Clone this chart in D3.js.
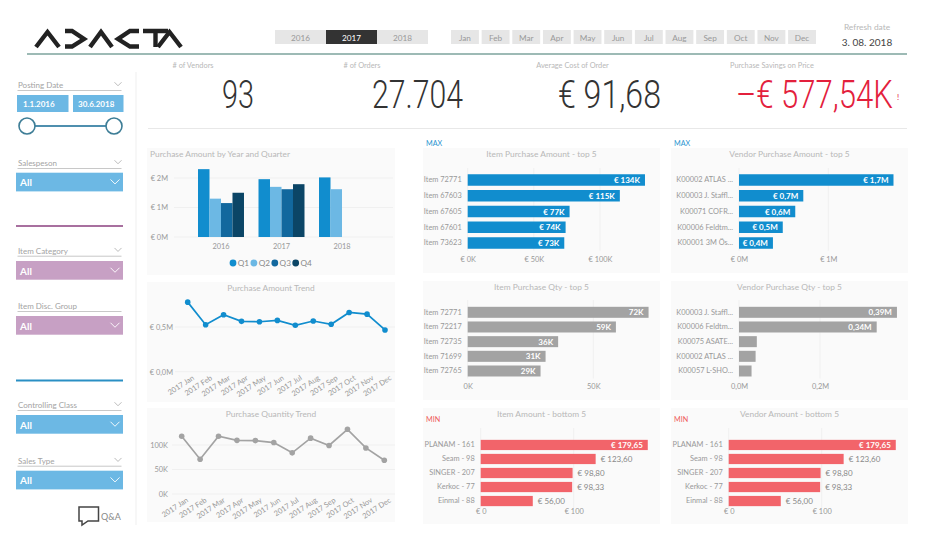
<!DOCTYPE html>
<html>
<head>
<meta charset="utf-8">
<script src="https://cdn.jsdelivr.net/npm/d3@7/dist/d3.min.js"></script>
<style>
  html, body { margin: 0; padding: 0; background: #fff; }
  svg { display: block; font-family: Lato, sans-serif; }
  .axis .domain, .axis .tick line { display: none; }
  .axis text { fill: #999; font-size: 7.4px; font-family: Lato, sans-serif; }
</style>
</head>
<body>
<svg id="root" width="929" height="552"></svg>
<script>
// Values
var years = ['2016', '2017', '2018'];
var selectedYear = '2017';
var months = ['Jan', 'Feb', 'Mar', 'Apr', 'May', 'Jun', 'Jul', 'Aug', 'Sep', 'Oct', 'Nov', 'Dec'];
var quarters = ['Q1', 'Q2', 'Q3', 'Q4'];
var quarterAmount2016 = [2.3, 1.3, 1.15, 1.5];
var quarterAmount2017 = [1.96, 1.7, 1.62, 1.79];
var quarterAmount2018 = [2.02, 1.62];
var yearTicks = [0, 1, 2];

var trendLabels = months.map(function(m) { return '2017 ' + m; });
var amountTrend = [0.778, 0.526, 0.637, 0.563, 0.559, 0.574, 0.519, 0.567, 0.530, 0.663, 0.644, 0.467];
var amountTicks = [0, 0.5];
var quantityTrend = [118, 71, 118, 109.5, 109, 105, 84, 114, 99, 132, 94, 69];
var quantityTicks = [0, 50, 100];

var itemAmountNames = ['Item 72771', 'Item 67603', 'Item 67605', 'Item 67601', 'Item 73623'];
var itemAmountValues = [134, 115, 77, 74, 73];
var vendorAmountNames = ['K00002 ATLAS ...', 'K00003 J. Staffl...', 'K00071 COFR...', 'K00006 Feldtm...', 'K00001 3M Ös...'];
var vendorAmountValues = [1.73, 0.72, 0.63, 0.49, 0.38];
var itemQtyNames = ['Item 72771', 'Item 72217', 'Item 72735', 'Item 71699', 'Item 72765'];
var itemQtyValues = [72, 59, 36, 31, 29];
var vendorQtyNames = ['K00003 J. Staffl...', 'K00006 Feldtm...', 'K00075 ASATE...', 'K00002 ATLAS ...', 'K00057 L-SHO...'];
var vendorQtyValues = [0.39, 0.34, 0.044, 0.041, 0.031];
var bottomNames = ['PLANAM - 161', 'Seam - 98', 'SINGER - 207', 'Kerkoc - 77', 'Einmal - 88'];
var bottomValues = [179.65, 123.60, 98.80, 98.33, 56.00];

var kpiVendors = 93;
var kpiOrders = 27704;
var kpiAvgCost = 91.68;
var kpiSavings = 577.54;

// Colours
var blue = '#118dce', lightBlue = '#6cb8e4', grey = '#a3a3a3', red = '#f2646a';
var quarterColors = [blue, lightBlue, '#12689e', '#0b4566'];
var titleColor = '#b8b8b8', labelColor = '#8e8e8e', gridColor = '#f0f0f0', panelColor = '#fafafa';

// European number style, as on the dashboard
var locale = d3.formatLocale({decimal: ',', thousands: '.', grouping: [3], currency: ['€ ', '']});
var fmt2 = locale.format('.2f');
var fmt1 = locale.format('.1f');
var fmtInt = locale.format(',d');

var svg = d3.select('#root');

function text(parent, x, y, str, size, color, anchor, weight) {
  return parent.append('text').attr('x', x).attr('y', y).text(str)
    .attr('font-size', size).attr('fill', color)
    .attr('text-anchor', anchor || 'start')
    .attr('font-weight', weight || 400);
}

function rect(parent, x, y, w, h, color) {
  return parent.append('rect').attr('x', x).attr('y', y)
    .attr('width', w).attr('height', h).attr('fill', color);
}

function chevron(parent, cx, cy, halfW, color, sw) {
  parent.append('path')
    .attr('d', 'M' + (cx - halfW) + ',' + (cy - halfW / 2) + 'L' + cx + ',' + (cy + halfW / 2) + 'L' + (cx + halfW) + ',' + (cy - halfW / 2))
    .attr('fill', 'none').attr('stroke', color).attr('stroke-width', sw);
}

drawHeader();
drawKpis();
drawSidebar();
drawQuarterBars();
drawTrend({panel: [147, 282, 248, 120], title: 'Purchase Amount Trend', values: amountTrend, ticks: amountTicks,
  color: blue, x: [187.7, 385], y: [371.7, 327], yTop: 0.5, grid: [175, 395], labelX: 173,
  tickFormat: function(d) { return '€ ' + fmt1(d) + 'M'; }});
drawTrend({panel: [147, 408, 248, 114], title: 'Purchase Quantity Trend', values: quantityTrend, ticks: quantityTicks,
  color: grey, x: [181.7, 384.3], y: [494, 445], yTop: 100, grid: [172, 395], labelX: 168,
  tickFormat: function(d) { return d + 'K'; }});

drawBars({panel: [423, 148, 237, 125], title: 'Item Purchase Amount - top 5', names: itemAmountNames, values: itemAmountValues,
  color: blue, xDomain: [0, 100], xRange: [467.7, 600], band: [174.25, 248.75], pad: 0.27, ticks: [0, 50, 100], axisY: 263, gridTop: 168,
  tickFormat: function(d) { return '€ ' + d + 'K'; }, label: function(d) { return '€ ' + d + 'K'; }, insideMin: 0});
drawBars({panel: [671, 148, 237, 125], title: 'Vendor Purchase Amount - top 5', names: vendorAmountNames, values: vendorAmountValues,
  color: blue, xDomain: [0, 1], xRange: [739, 828.3], band: [174.25, 248.75], pad: 0.27, ticks: [0, 1], axisY: 263, gridTop: 168,
  tickFormat: function(d) { return '€ ' + d + 'M'; }, label: function(d) { return '€ ' + fmt1(d) + 'M'; }, insideMin: 0});
drawBars({panel: [423, 281, 237, 119], title: 'Item Purchase Qty - top 5', names: itemQtyNames, values: itemQtyValues,
  color: grey, xDomain: [0, 50], xRange: [467.7, 593.3], band: [306.8, 376.5], pad: 0.25, ticks: [0, 50], axisY: 390, gridTop: 300,
  tickFormat: function(d) { return d + 'K'; }, label: function(d) { return d + 'K'; }, insideMin: 0});
drawBars({panel: [671, 281, 237, 119], title: 'Vendor Purchase Qty - top 5', names: vendorQtyNames, values: vendorQtyValues,
  color: grey, xDomain: [0, 0.2], xRange: [739, 820], band: [306.8, 376.5], pad: 0.25, ticks: [0, 0.2], axisY: 390, gridTop: 300,
  tickFormat: function(d) { return fmt1(d) + 'M'; }, label: function(d) { return fmt2(d) + 'M'; }, insideMin: 0.1, hideSmall: true});
drawBars({panel: [423, 408, 237, 116], title: 'Item Amount - bottom 5', names: bottomNames, values: bottomValues,
  color: red, xDomain: [0, 100], xRange: [480.7, 573.7], band: [439.85, 506.15], pad: 0.27, ticks: [0, 100], axisY: 515, gridTop: 428,
  tickFormat: function(d) { return '€ ' + d; }, label: function(d) { return '€ ' + fmt2(d); }, insideMin: 150});
drawBars({panel: [671, 408, 237, 116], title: 'Vendor Amount - bottom 5', names: bottomNames, values: bottomValues,
  color: red, xDomain: [0, 100], xRange: [728.7, 821.7], band: [439.85, 506.15], pad: 0.27, ticks: [0, 100], axisY: 515, gridTop: 428,
  tickFormat: function(d) { return '€ ' + d; }, label: function(d) { return '€ ' + fmt2(d); }, insideMin: 150});

text(svg, 426, 146, 'MAX', 7.2, '#2a94d0');
text(svg, 674, 146, 'MAX', 7.2, '#2a94d0');
text(svg, 426, 422, 'MIN', 7.2, '#ef5b5b');
text(svg, 674, 422, 'MIN', 7.2, '#ef5b5b');

function drawHeader() {
  // The logo is a drawn wordmark: pointed shapes instead of letters
  var logo = svg.append('g').attr('fill', 'none').attr('stroke', '#222').attr('stroke-width', 4.4);
  logo.append('title').text('ADACTA');
  var glyphs = [
    'M36,47L47.5,32L59,47',
    'M65,31H72L84,39L72,46.5H65',
    'M90,47L101,32L112,47',
    'M139,31H130L118,39L130,46.5H139',
    'M143,31H168M155.5,31V47',
    'M158,47L169.5,32L181,47'
  ];
  logo.selectAll('path').data(glyphs).join('path').attr('d', function(d) { return d; });

  var yearX = d3.scaleBand().domain(years).range([275, 428]);
  var yearG = svg.append('g').selectAll('g').data(years).join('g');
  yearG.append('rect').attr('x', function(d) { return yearX(d); }).attr('y', 30)
    .attr('width', yearX.bandwidth()).attr('height', 14)
    .attr('fill', function(d) { return d === selectedYear ? '#333' : '#e6e6e6'; });
  yearG.append('text').attr('x', function(d) { return yearX(d) + yearX.bandwidth() / 2; }).attr('y', 40.5)
    .attr('text-anchor', 'middle').attr('font-size', 8.2)
    .attr('fill', function(d) { return d === selectedYear ? '#fff' : '#999'; })
    .text(function(d) { return d; });

  var monthX = d3.scaleBand().domain(months).range([451, 816]).paddingInner(0.09);
  var monthG = svg.append('g').selectAll('g').data(months).join('g');
  monthG.append('rect').attr('x', function(d) { return monthX(d); }).attr('y', 30)
    .attr('width', monthX.bandwidth()).attr('height', 14).attr('fill', '#e6e6e6');
  monthG.append('text').attr('x', function(d) { return monthX(d) + monthX.bandwidth() / 2; }).attr('y', 40.5)
    .attr('text-anchor', 'middle').attr('font-size', 8.2).attr('fill', '#999')
    .text(function(d) { return d; });

  text(svg, 867, 30, 'Refresh date', 8.4, titleColor, 'middle');
  text(svg, 867, 46, '3. 08. 2018', 10, '#444', 'middle');
  rect(svg, 27, 53, 880, 2, '#9dbab5');
}

function drawKpis() {
  text(svg, 193, 68, '# of Vendors', 7.4, titleColor, 'middle');
  text(svg, 362, 68, '# of Orders', 7.4, titleColor, 'middle');
  text(svg, 572.5, 68, 'Average Cost of Order', 7.4, titleColor, 'middle');
  text(svg, 772, 68, 'Purchase Savings on Price', 7.4, titleColor, 'middle');

  // The original number font is narrower, so squeeze each value to its measured width
  function big(x, width, str, color) {
    var t = text(svg, 0, 0, str, 38, color, 'start', 300)
      .attr('font-family', 'Roboto, sans-serif');
    var natural = t.node().getComputedTextLength();
    t.attr('transform', 'translate(' + x + ',108) scale(' + (width / natural) + ',1)');
  }
  big(222, 32, fmtInt(kpiVendors), '#333');
  big(372, 91, fmtInt(kpiOrders), '#333');
  big(558, 103, '€ ' + fmt2(kpiAvgCost), '#333');
  big(736, 157, '–€ ' + fmt2(kpiSavings) + 'K', '#e3203c');
  text(svg, 897, 100, '!', 8, '#e3203c');

  rect(svg, 148, 128, 759, 1, '#e8e8e8');
  rect(svg, 135.5, 72, 1, 453, '#f0f0f0');
}

function drawSidebar() {
  function header(label, yc, hasChevron) {
    text(svg, 18, yc + 3, label, 8, '#a3a3a3');
    rect(svg, 17.5, yc + 5, 104, 1, '#c8c8c8');
    if (hasChevron) chevron(svg, 118, yc - 1, 3.5, '#aaa', 0.8);
  }
  function dropdown(y, color) {
    rect(svg, 16, y, 107, 18.7, color);
    text(svg, 20, y + 13.5, 'All', 10, '#fff', 'start', 700);
    chevron(svg, 115, y + 9, 4.5, '#fff', 0.9);
  }
  header('Posting Date', 85, true);
  rect(svg, 17, 95, 51.5, 17, lightBlue);
  rect(svg, 73, 95, 50.5, 17, lightBlue);
  text(svg, 23, 107, '1.1.2016', 8, '#fff', 'start', 700);
  text(svg, 78, 107, '30.6.2018', 8, '#fff', 'start', 700);
  rect(svg, 27, 125, 87, 2, '#4f8fae');
  svg.selectAll('circle.handle').data([27, 114]).join('circle').attr('class', 'handle')
    .attr('cx', function(d) { return d; }).attr('cy', 126).attr('r', 8)
    .attr('fill', '#fff').attr('stroke', '#3d7d96').attr('stroke-width', 1.6);

  header('Salespeson', 163, true);
  dropdown(172.7, lightBlue);
  rect(svg, 16, 225, 107, 2, '#a8709f');
  header('Item Category', 250.7, true);
  dropdown(261, '#c7a0c4');
  header('Item Disc. Group', 306, false);
  dropdown(316, '#c7a0c4');
  rect(svg, 16, 379.5, 107, 2, '#2a8fc4');
  header('Controlling Class', 405, true);
  dropdown(415, lightBlue);
  header('Sales Type', 460.7, true);
  dropdown(470.7, lightBlue);

  svg.append('path').attr('d', 'M79,507H98.5V521H88L82,525V521H79Z')
    .attr('fill', '#fff').attr('stroke', '#444').attr('stroke-width', 1.5);
  text(svg, 101, 520, 'Q&A', 9, '#888');
}

function panel(box, title, titleX, titleY, anchor) {
  rect(svg, box[0], box[1], box[2], box[3], panelColor);
  text(svg, titleX, titleY, title, 8.4, titleColor, anchor);
}

function drawQuarterBars() {
  panel([147, 148, 248, 127], 'Purchase Amount by Year and Quarter', 150, 157, 'start');
  var g = svg.append('g');
  var y = d3.scaleLinear().domain([0, 2]).range([237, 178]);
  var x0 = d3.scaleBand().domain(years).range([198, 365]).paddingInner(0.24);
  var x1 = d3.scaleBand().domain(quarters).range([0, x0.bandwidth()]);
  var series = [
    {year: '2016', values: quarterAmount2016},
    {year: '2017', values: quarterAmount2017},
    {year: '2018', values: quarterAmount2018}
  ];

  g.selectAll('line.grid').data(yearTicks).join('line').attr('class', 'grid')
    .attr('x1', 174).attr('x2', 393)
    .attr('y1', function(d) { return y(d); }).attr('y2', function(d) { return y(d); })
    .attr('stroke', gridColor);

  var groups = g.selectAll('g.year').data(series).join('g').attr('class', 'year')
    .attr('transform', function(d) { return 'translate(' + x0(d.year) + ',0)'; });
  groups.selectAll('rect').data(function(d) { return d.values; }).join('rect')
    .attr('x', function(d, i) { return x1(quarters[i]); })
    .attr('width', x1.bandwidth())
    .attr('y', function(d) { return y(d); })
    .attr('height', function(d) { return y(0) - y(d); })
    .attr('fill', function(d, i) { return quarterColors[i]; });

  g.append('g').attr('class', 'axis').attr('transform', 'translate(168,0)')
    .call(d3.axisLeft(y).tickValues(yearTicks).tickSize(0).tickPadding(0)
      .tickFormat(function(d) { return '€ ' + d + 'M'; }));
  g.append('g').attr('class', 'axis').attr('transform', 'translate(0,241)')
    .call(d3.axisBottom(x0).tickSize(0).tickPadding(3));

  var legendX = d3.scalePoint().domain(quarters).range([233, 295.7]);
  var legend = g.selectAll('g.legend').data(quarters).join('g').attr('class', 'legend')
    .attr('transform', function(d) { return 'translate(' + legendX(d) + ',263)'; });
  legend.append('circle').attr('r', 3.4).attr('fill', function(d, i) { return quarterColors[i]; });
  legend.append('text').attr('x', 4.8).attr('y', 3).attr('font-size', 8.2).attr('fill', '#888')
    .text(function(d) { return d; });
}

function drawTrend(o) {
  panel(o.panel, o.title, o.panel[0] + o.panel[2] / 2, o.panel[1] + 8.5, 'middle');
  var g = svg.append('g');
  var x = d3.scalePoint().domain(trendLabels).range(o.x);
  var y = d3.scaleLinear().domain([0, o.yTop]).range(o.y);

  g.selectAll('line.grid').data(o.ticks).join('line').attr('class', 'grid')
    .attr('x1', o.grid[0]).attr('x2', o.grid[1])
    .attr('y1', function(d) { return y(d); }).attr('y2', function(d) { return y(d); })
    .attr('stroke', gridColor);

  var line = d3.line()
    .x(function(d, i) { return x(trendLabels[i]); })
    .y(function(d) { return y(d); });
  g.append('path').datum(o.values).attr('d', line)
    .attr('fill', 'none').attr('stroke', o.color).attr('stroke-width', 1.7);
  g.selectAll('circle').data(o.values).join('circle')
    .attr('cx', function(d, i) { return x(trendLabels[i]); })
    .attr('cy', function(d) { return y(d); })
    .attr('r', 2.8).attr('fill', o.color);

  g.append('g').attr('class', 'axis').attr('transform', 'translate(' + o.labelX + ',0)')
    .call(d3.axisLeft(y).tickValues(o.ticks).tickSize(0).tickPadding(0).tickFormat(o.tickFormat));
  g.append('g').attr('class', 'axis').attr('transform', 'translate(0,' + (o.y[0] + 1) + ')')
    .call(d3.axisBottom(x).tickSize(0).tickPadding(3))
    .selectAll('text')
    .attr('text-anchor', 'end')
    .attr('dx', '2px').attr('dy', '6px')
    .attr('transform', 'rotate(-33)');
}

function drawBars(o) {
  var titleY = o.panel[1] + 9;
  panel(o.panel, o.title, o.panel[0] + o.panel[2] / 2, titleY, 'middle');
  var g = svg.append('g');
  var x = d3.scaleLinear().domain(o.xDomain).range(o.xRange);
  var y = d3.scaleBand().domain(o.names).range(o.band).paddingInner(o.pad);

  g.selectAll('line.grid').data(o.ticks).join('line').attr('class', 'grid')
    .attr('x1', function(d) { return x(d); }).attr('x2', function(d) { return x(d); })
    .attr('y1', o.gridTop).attr('y2', o.band[1] + 2)
    .attr('stroke', gridColor);

  g.selectAll('rect').data(o.values).join('rect')
    .attr('x', x(0))
    .attr('y', function(d, i) { return y(o.names[i]); })
    .attr('width', function(d) { return x(d) - x(0); })
    .attr('height', y.bandwidth())
    .attr('fill', o.color);

  g.append('g').attr('class', 'axis').attr('transform', 'translate(' + (x(0) - 6) + ',0)')
    .call(d3.axisLeft(y).tickSize(0).tickPadding(0));
  g.append('g').attr('class', 'axis').attr('transform', 'translate(0,' + (o.axisY - 9) + ')')
    .call(d3.axisBottom(x).tickValues(o.ticks).tickSize(0).tickPadding(3).tickFormat(o.tickFormat));

  var shown = o.values.filter(function(d) { return !(o.hideSmall && d < o.insideMin); });
  g.selectAll('text.value').data(shown).join('text').attr('class', 'value')
    .attr('x', function(d) { return d >= o.insideMin ? x(d) - 5 : x(d) + 5; })
    .attr('y', function(d, i) { return y(o.names[i]) + y.bandwidth() / 2 + 3; })
    .attr('text-anchor', function(d) { return d >= o.insideMin ? 'end' : 'start'; })
    .attr('font-size', 8)
    .attr('font-weight', function(d) { return d >= o.insideMin ? 700 : 400; })
    .attr('fill', function(d) { return d >= o.insideMin ? '#fff' : '#888'; })
    .text(o.label);
}
</script>
</body>
</html>
